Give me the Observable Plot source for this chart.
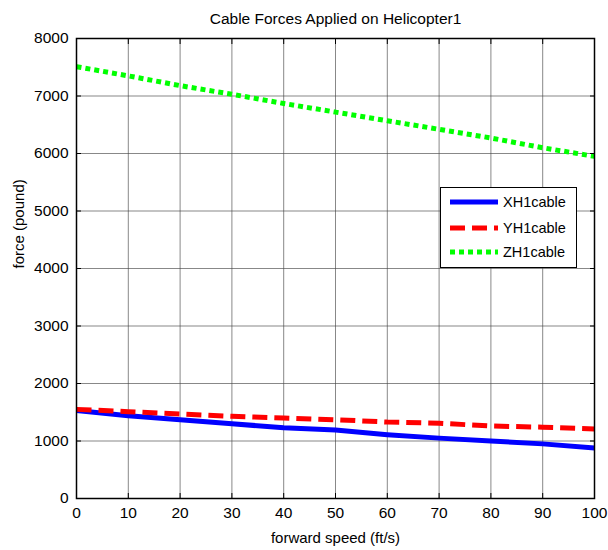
<!DOCTYPE html>
<html>
<head>
<meta charset="utf-8">
<script src="https://cdn.jsdelivr.net/npm/d3@7"></script>
<script src="https://cdn.jsdelivr.net/npm/@observablehq/plot@0.6"></script>
<style>
  html, body { margin: 0; padding: 0; background: #fff; }
  #wrap { position: relative; width: 608px; height: 550px; font-family: "Liberation Sans", Arial, sans-serif; }
  #legend { position: absolute; left: 440px; top: 187px; width: 137px; height: 81px; border: 1.5px solid #000; background: #fff; box-sizing: border-box; font-size: 14.5px; }
  .row { position: absolute; left: 9px; display: flex; align-items: center; }
  .row span { margin-left: 5px; }
</style>
</head>
<body>
<div id="wrap"></div>
<script>
const speeds = [0, 10, 20, 30, 40, 50, 60, 70, 80, 90, 100];
const xh1 = [1530, 1440, 1370, 1300, 1230, 1190, 1110, 1050, 1000, 950, 880];
const yh1 = [1550, 1510, 1470, 1430, 1400, 1370, 1330, 1310, 1260, 1240, 1210];
const zh1 = [7510, 7350, 7180, 7030, 6870, 6720, 6570, 6420, 6270, 6100, 5950];
const seriesNames = ["XH1cable", "YH1cable", "ZH1cable"];
const xTicks = [0, 10, 20, 30, 40, 50, 60, 70, 80, 90, 100];
const yTicks = [0, 1000, 2000, 3000, 4000, 5000, 6000, 7000, 8000];
const titleText = "Cable Forces Applied on Helicopter1";
const xLabel = "forward speed (ft/s)";
const yLabel = "force (pound)";

const styles = [
  {stroke: "#0000ff", dash: null},
  {stroke: "#ff0000", dash: "15,7"},
  {stroke: "#00ff00", dash: "5,4"}
];
const allSeries = [xh1, yh1, zh1];
const rows = allSeries.map((vals, i) => speeds.map((s, j) => ({speed: s, force: vals[j], name: seriesNames[i]})));

const lineMarks = rows.map((data, i) => Plot.line(data, {
  x: "speed", y: "force", stroke: styles[i].stroke, strokeWidth: 5,
  strokeDasharray: styles[i].dash, strokeLinecap: "butt", strokeLinejoin: "round"
}));

const chart = Plot.plot({
  width: 608, height: 550,
  marginLeft: 76, marginRight: 14, marginTop: 38, marginBottom: 52,
  style: {fontFamily: "Liberation Sans, Arial, sans-serif", fontSize: "15.5px", color: "#000", background: "#fff"},
  x: {domain: [0, 100], ticks: xTicks},
  y: {domain: [0, 8000], ticks: yTicks},
  marks: [
    Plot.gridX(xTicks, {stroke: "#444", strokeOpacity: 0.8, strokeWidth: 0.8}),
    Plot.gridY(yTicks, {stroke: "#444", strokeOpacity: 0.8, strokeWidth: 0.8}),
    ...lineMarks,
    Plot.frame({stroke: "#000", strokeWidth: 1.5}),
    Plot.axisX(xTicks, {anchor: "bottom", tickSize: -5, tickPadding: 13, fontSize: 15.5, label: null, tickFormat: d => String(d)}),
    Plot.axisX(xTicks, {anchor: "top", tickSize: -5, text: null, label: null}),
    Plot.axisY(yTicks, {anchor: "left", tickSize: -5, tickPadding: 13, fontSize: 15.5, label: null, tickFormat: d => String(d)}),
    Plot.axisY(yTicks, {anchor: "right", tickSize: -5, text: null, label: null}),
    Plot.text([titleText], {frameAnchor: "top", lineAnchor: "middle", dy: -19, fontSize: 15.5, text: d => d}),
    Plot.text([xLabel], {frameAnchor: "bottom", lineAnchor: "middle", dy: 40, fontSize: 15, text: d => d}),
    Plot.text([yLabel], {frameAnchor: "left", lineAnchor: "middle", dx: -57, rotate: -90, fontSize: 15, text: d => d})
  ]
});

const wrap = document.getElementById("wrap");
wrap.appendChild(chart);

// legend
const legend = document.createElement("div");
legend.id = "legend";
const tops = [6, 32, 56];
seriesNames.forEach((n, i) => {
  const r = document.createElement("div");
  r.className = "row";
  r.style.top = tops[i] + "px";
  const dash = styles[i].dash ? `stroke-dasharray="${styles[i].dash}"` : "";
  r.innerHTML = `<svg width="48" height="16"><line x1="0" x2="48" y1="8" y2="8" stroke="${styles[i].stroke}" stroke-width="5" ${dash}/></svg><span>${n}</span>`;
  legend.appendChild(r);
});
wrap.appendChild(legend);
</script>
</body>
</html>
